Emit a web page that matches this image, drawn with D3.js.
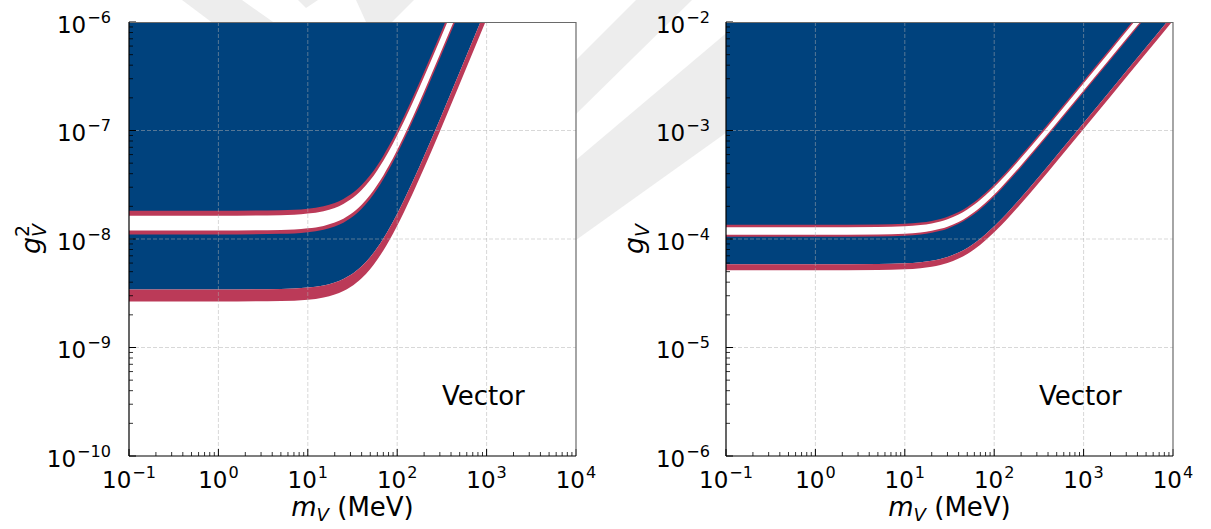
<!DOCTYPE html>
<html>
<head>
<meta charset="utf-8">
<script src="https://cdn.jsdelivr.net/npm/d3@7"></script>
<style>
  body { margin: 0; background: #fff; }
  svg { font-family: 'DejaVu Sans', sans-serif; }
</style>
</head>
<body>
<div id="chart"></div>
<script>
// vector mass in MeV, and coupling g_V (left panel is g_V^2)
const masses = [0.1, 1, 5, 10, 15, 20, 25, 30, 40, 50, 60, 70, 80, 100, 120, 150, 200, 300, 500, 1000, 2000, 5000, 10000]

// lower band: inner edge touches the blue, outer edge touches the white
const lowerIn = [5.85e-5, 5.85e-5, 5.88e-5, 5.97e-5, 6.11e-5, 6.30e-5, 6.54e-5, 6.82e-5, 7.49e-5, 8.27e-5, 9.14e-5, 1.006e-4, 1.104e-4, 1.308e-4, 1.521e-4, 1.850e-4, 2.412e-4, 3.558e-4, 5.88e-4, 1.171e-3, 2.341e-3, 5.85e-3, 1.17e-2]
const lowerOut = [5.15e-5, 5.15e-5, 5.18e-5, 5.25e-5, 5.38e-5, 5.55e-5, 5.76e-5, 6.01e-5, 6.60e-5, 7.28e-5, 8.04e-5, 8.86e-5, 9.72e-5, 1.152e-4, 1.339e-4, 1.629e-4, 2.123e-4, 3.133e-4, 5.18e-4, 1.031e-3, 2.061e-3, 5.15e-3, 1.03e-2]

// upper band, from top to bottom: red edge, white gap, red edge
const upperA = [1.35e-4, 1.35e-4, 1.358e-4, 1.380e-4, 1.417e-4, 1.467e-4, 1.529e-4, 1.602e-4, 1.773e-4, 1.971e-4, 2.189e-4, 2.422e-4, 2.665e-4, 3.174e-4, 3.702e-4, 4.515e-4, 5.901e-4, 8.722e-4, 1.442e-3, 2.876e-3, 5.744e-3, 1.436e-2, 2.872e-2]
const upperB = [1.28e-4, 1.28e-4, 1.287e-4, 1.309e-4, 1.344e-4, 1.391e-4, 1.450e-4, 1.519e-4, 1.681e-4, 1.869e-4, 2.076e-4, 2.296e-4, 2.527e-4, 3.009e-4, 3.510e-4, 4.281e-4, 5.595e-4, 8.270e-4, 1.368e-3, 2.726e-3, 5.446e-3, 1.362e-2, 2.723e-2]
const upperC = [1.095e-4, 1.095e-4, 1.101e-4, 1.120e-4, 1.149e-4, 1.190e-4, 1.240e-4, 1.299e-4, 1.438e-4, 1.599e-4, 1.776e-4, 1.964e-4, 2.162e-4, 2.574e-4, 3.002e-4, 3.662e-4, 4.787e-4, 7.075e-4, 1.170e-3, 2.332e-3, 4.659e-3, 1.165e-2, 2.330e-2]
const upperD = [1.05e-4, 1.05e-4, 1.056e-4, 1.074e-4, 1.102e-4, 1.141e-4, 1.189e-4, 1.246e-4, 1.379e-4, 1.533e-4, 1.703e-4, 1.884e-4, 2.073e-4, 2.468e-4, 2.879e-4, 3.512e-4, 4.590e-4, 6.784e-4, 1.122e-3, 2.237e-3, 4.468e-3, 1.117e-2, 2.234e-2]

const xExps = [-1, 0, 1, 2, 3, 4]
const leftExps = [-10, -9, -8, -7, -6]
const rightExps = [-6, -5, -4, -3, -2]
const panelText = 'Vector'

const blue = '#00427d'
const red = '#bb3a58'

const svgW = 1211
const svgH = 529
const plotTop = 22
const plotW = 447
const plotH = 434

const svg = d3
  .select('#chart')
  .append('svg')
  .attr('width', svgW)
  .attr('height', svgH)

// faint watermark behind everything (only the margins show it)
const wm = svg.append('g').attr('fill', '#ededed')
const bands = [
  [[182, 0], [242, 0], [276, 24], [214, 24]],
  [[298, 0], [318, 0], [306, 8]],
  [[356, 0], [414, 0], [392, 22], [366, 22]],
  [[576, 60], [636, 0], [692, 0], [576, 114]],
  [[576, 160], [730, 30], [730, 130], [576, 240]]
]
wm.selectAll('polygon')
  .data(bands)
  .enter()
  .append('polygon')
  .attr('points', d => d.map(p => p.join(',')).join(' '))

function sup(text, exp) {
  text.append('tspan').text('10')
  text
    .append('tspan')
    .attr('dx', 1)
    .attr('dy', -10)
    .attr('font-size', '0.7em')
    .text(exp < 0 ? '\u2212' + -exp : exp)
}

function drawPanel(opts) {
  const g = svg.append('g').attr('transform', `translate(${opts.left},${plotTop})`)

  const x = d3.scaleLog().domain([1e-1, 1e4]).range([0, plotW])
  const y = d3.scaleLog().domain(opts.yDomain).range([plotH, 0])
  const v = opts.value

  const rows = masses.map((m, i) => ({
    m,
    lIn: v(lowerIn[i]),
    lOut: v(lowerOut[i]),
    a: v(upperA[i]),
    b: v(upperB[i]),
    c: v(upperC[i]),
    d: v(upperD[i])
  }))

  const clipId = 'clip' + opts.left
  g.append('clipPath')
    .attr('id', clipId)
    .append('rect')
    .attr('width', plotW)
    .attr('height', plotH)

  g.append('rect')
    .attr('width', plotW)
    .attr('height', plotH)
    .attr('fill', '#fff')

  const plot = g.append('g').attr('clip-path', `url(#${clipId})`)

  const area = (lo, hi) =>
    d3
      .area()
      .curve(d3.curveMonotoneX)
      .x(d => x(d.m))
      .y0(lo)
      .y1(hi)

  plot.append('path')
    .datum(rows)
    .attr('fill', blue)
    .attr('d', area(d => y(d.lIn), () => -5))

  plot.append('path')
    .datum(rows)
    .attr('fill', red)
    .attr('d', area(d => y(d.lOut), d => y(d.lIn)))

  plot.append('path')
    .datum(rows)
    .attr('fill', red)
    .attr('d', area(d => y(d.d), d => y(d.a)))

  plot.append('path')
    .datum(rows)
    .attr('fill', '#fff')
    .attr('d', area(d => y(d.c), d => y(d.b)))

  // dashed grid on top of the fills
  const grid = plot.append('g')
    .attr('stroke', '#b0b0b0')
    .attr('stroke-opacity', 0.55)
    .attr('stroke-width', 0.9)
    .attr('stroke-dasharray', '4,2')
  grid.selectAll('.gx')
    .data(xExps.slice(1, -1))
    .enter()
    .append('line')
    .attr('x1', d => x(Math.pow(10, d)))
    .attr('x2', d => x(Math.pow(10, d)))
    .attr('y1', 0)
    .attr('y2', plotH)
  grid.selectAll('.gy')
    .data(opts.yExps.slice(1, -1))
    .enter()
    .append('line')
    .attr('y1', d => y(Math.pow(10, d)))
    .attr('y2', d => y(Math.pow(10, d)))
    .attr('x1', 0)
    .attr('x2', plotW)

  // inward ticks
  const xMinor = []
  xExps.slice(0, -1).forEach(e => {
    for (let j = 2; j < 10; j++) xMinor.push(j * Math.pow(10, e))
  })
  const yMinor = []
  opts.yExps.slice(0, -1).forEach(e => {
    for (let j = 2; j < 10; j++) yMinor.push(j * Math.pow(10, e))
  })

  const ticks = g.append('g').attr('stroke', '#000')
  ticks.selectAll('.xmaj')
    .data(xExps)
    .enter()
    .append('line')
    .attr('x1', d => x(Math.pow(10, d)))
    .attr('x2', d => x(Math.pow(10, d)))
    .attr('y1', plotH)
    .attr('y2', plotH - 7)
  ticks.selectAll('.xmin')
    .data(xMinor)
    .enter()
    .append('line')
    .attr('stroke-width', 0.8)
    .attr('x1', d => x(d))
    .attr('x2', d => x(d))
    .attr('y1', plotH)
    .attr('y2', plotH - 4)
  ticks.selectAll('.ymaj')
    .data(opts.yExps)
    .enter()
    .append('line')
    .attr('y1', d => y(Math.pow(10, d)))
    .attr('y2', d => y(Math.pow(10, d)))
    .attr('x1', 0)
    .attr('x2', 7)
  ticks.selectAll('.ymin')
    .data(yMinor)
    .enter()
    .append('line')
    .attr('stroke-width', 0.8)
    .attr('y1', d => y(d))
    .attr('y2', d => y(d))
    .attr('x1', 0)
    .attr('x2', 4)

  // spines
  g.append('line').attr('x1', 0).attr('x2', plotW).attr('y1', 0.5).attr('y2', 0.5)
    .attr('stroke', '#6a6a6a').attr('stroke-width', 1.2)
  g.append('line').attr('x1', plotW).attr('x2', plotW).attr('y1', 0).attr('y2', plotH)
    .attr('stroke', '#6a6a6a').attr('stroke-width', 1.2)
  g.append('line').attr('x1', 0).attr('x2', 0).attr('y1', 0).attr('y2', plotH)
    .attr('stroke', '#000').attr('stroke-width', 1.2)
  g.append('line').attr('x1', 0).attr('x2', plotW).attr('y1', plotH).attr('y2', plotH)
    .attr('stroke', '#000').attr('stroke-width', 1.2)

  // tick labels
  g.selectAll('.xlab')
    .data(xExps)
    .enter()
    .append('text')
    .attr('x', d => x(Math.pow(10, d)))
    .attr('y', plotH + 32)
    .attr('text-anchor', 'middle')
    .attr('font-size', 23)
    .each(function(d) {
      sup(d3.select(this), d)
    })

  g.selectAll('.ylab')
    .data(opts.yExps)
    .enter()
    .append('text')
    .attr('x', -opts.tickGap)
    .attr('y', d => y(Math.pow(10, d)) + 10.5)
    .attr('text-anchor', 'end')
    .attr('font-size', 23)
    .each(function(d) {
      sup(d3.select(this), d)
    })

  // axis titles
  const xt = g.append('text')
    .attr('x', plotW / 2)
    .attr('y', plotH + 60)
    .attr('text-anchor', 'middle')
    .attr('font-size', 26)
  xt.append('tspan').attr('font-style', 'italic').text('m')
  xt.append('tspan').attr('font-style', 'italic').attr('font-size', '0.7em').attr('dy', 5).text('V')
  xt.append('tspan').attr('dy', -5).text(' (MeV)')

  const yt = g.append('text')
    .attr('transform', `translate(${opts.labelX - opts.left},${plotH / 2}) rotate(-90)`)
    .attr('text-anchor', 'middle')
    .attr('font-size', 27)
  yt.append('tspan').attr('font-style', 'italic').text('g')
  yt.append('tspan').attr('font-style', 'italic').attr('font-size', '0.7em').attr('dy', 6).text('V')
  if (opts.squared) {
    yt.append('tspan').attr('font-size', '0.7em').attr('dx', -13).attr('dy', -17).text('2')
  }

  g.append('text')
    .attr('x', plotW * 0.7)
    .attr('y', plotH - 51)
    .attr('font-size', 26)
    .text(panelText)
}

drawPanel({
  left: 129,
  yDomain: [1e-10, 1e-6],
  yExps: leftExps,
  value: d => d * d,
  squared: true,
  labelX: 40,
  tickGap: 18
})

drawPanel({
  left: 726,
  yDomain: [1e-6, 1e-2],
  yExps: rightExps,
  value: d => d,
  squared: false,
  labelX: 643,
  tickGap: 16
})
</script>
</body>
</html>
